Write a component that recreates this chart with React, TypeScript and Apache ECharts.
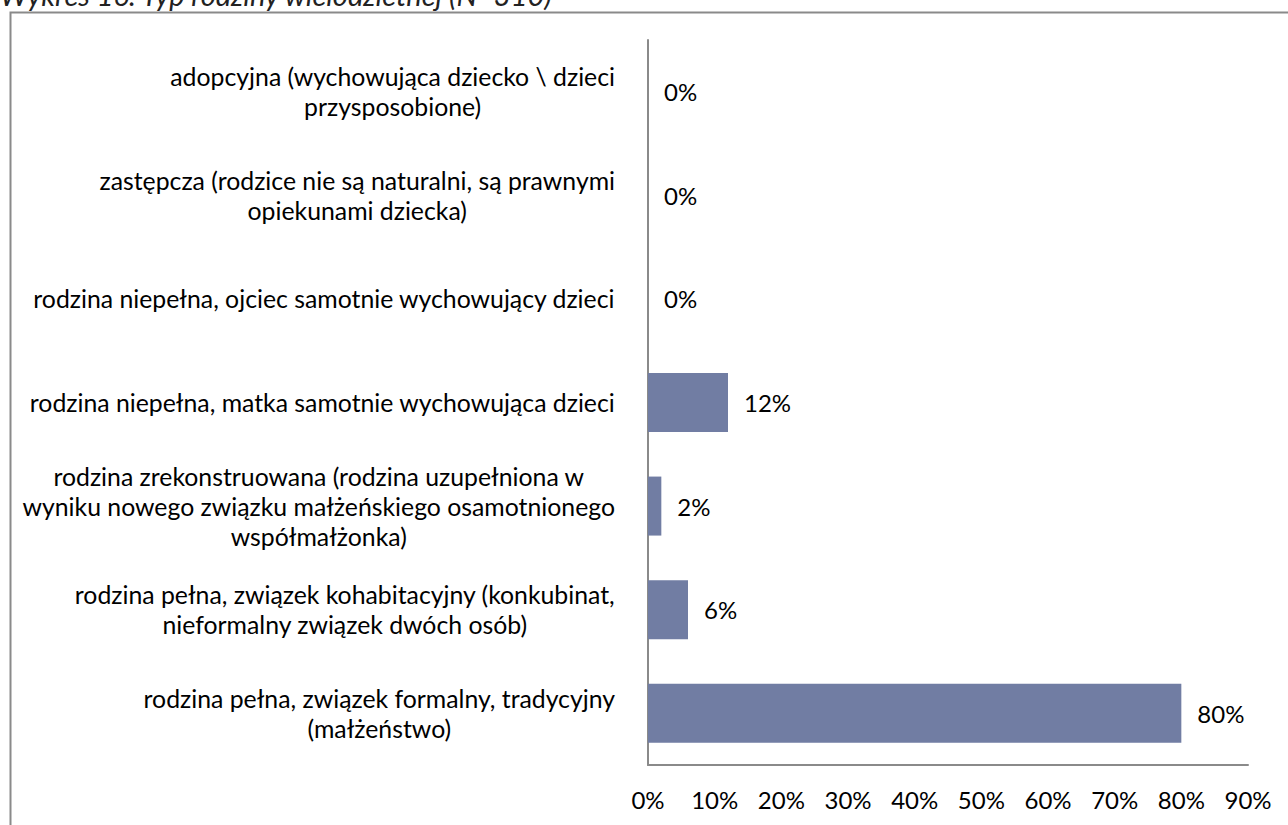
import React, { useEffect, useRef } from "react";
import * as echarts from "echarts";

const titleText = "Wykres 16. Typ rodziny wielodzietnej (N=310)";

const categories = [
  "rodzina pełna, związek formalny, tradycyjny\n(małżeństwo)",
  "rodzina pełna, związek kohabitacyjny (konkubinat,\nnieformalny związek dwóch osób)",
  "rodzina zrekonstruowana (rodzina uzupełniona w\nwyniku nowego związku małżeńskiego osamotnionego\nwspółmałżonka)",
  "rodzina niepełna, matka samotnie wychowująca dzieci",
  "rodzina niepełna, ojciec samotnie wychowujący dzieci",
  "zastępcza (rodzice nie są naturalni, są prawnymi\nopiekunami dziecka)",
  "adopcyjna (wychowująca dziecko \\ dzieci\nprzysposobione)",
];

const values = [80, 6, 2, 12, 0, 0, 0];

const xTicks = { min: 0, max: 90, interval: 10 };

const FONT = "Lato, 'Open Sans', sans-serif";
const FS = 24;
const CAT_FS = 24.8;

export default function App() {
  const ref = useRef<HTMLDivElement>(null);
  useEffect(() => {
    if (!ref.current) return;
    const chart = echarts.init(ref.current, null, { renderer: "svg" });
    chart.setOption({
      animation: false,
      backgroundColor: "#ffffff",
      graphic: [
        {
          type: "rect",
          shape: { x: 10.5, y: 12.5, width: 1400, height: 900 },
          style: { fill: "none", stroke: "#8a8a8a", lineWidth: 2 },
          silent: true,
        },
        {
          type: "text",
          x: 0,
          y: 9,
          style: {
            text: titleText,
            fontFamily: FONT,
            fontStyle: "italic",
            fontSize: 29,
            fill: "#222",
            verticalAlign: "bottom",
            align: "left",
          },
        },
      ],
      grid: { left: 648, right: 40, top: 40, bottom: 60, containLabel: false },
      xAxis: {
        type: "value",
        min: xTicks.min,
        max: xTicks.max,
        interval: xTicks.interval,
        axisLine: { show: true, lineStyle: { color: "#8a8a8a", width: 2 } },
        axisTick: { show: false },
        splitLine: { show: false },
        axisLabel: {
          formatter: "{value}%",
          fontFamily: FONT,
          fontSize: FS,
          color: "#000",
          margin: 22,
        },
      },
      yAxis: {
        type: "category",
        data: categories,
        axisLine: { show: true, lineStyle: { color: "#8a8a8a", width: 2 } },
        axisTick: { show: false },
        splitLine: { show: false },
        axisLabel: {
          margin: 33,
          align: "right",
          formatter: (v: string) =>
            v
              .split("\n")
              .map((l) => `{c|${l}}`)
              .join("\n"),
          rich: {
            c: {
              align: "center",
              fontFamily: FONT,
              fontSize: CAT_FS,
              lineHeight: 30,
              color: "#000",
            },
          },
        },
      },
      series: [
        {
          type: "bar",
          data: values,
          barWidth: 59,
          itemStyle: { color: "#717da3" },
          label: {
            show: true,
            position: "right",
            distance: 16,
            formatter: "{c}%",
            fontFamily: FONT,
            fontSize: FS,
            color: "#000",
          },
        },
      ],
    });
    return () => chart.dispose();
  }, []);
  return (
    <div
      ref={ref}
      style={{ position: "absolute", left: 0, top: 0, width: 1288, height: 825 }}
    />
  );
}
